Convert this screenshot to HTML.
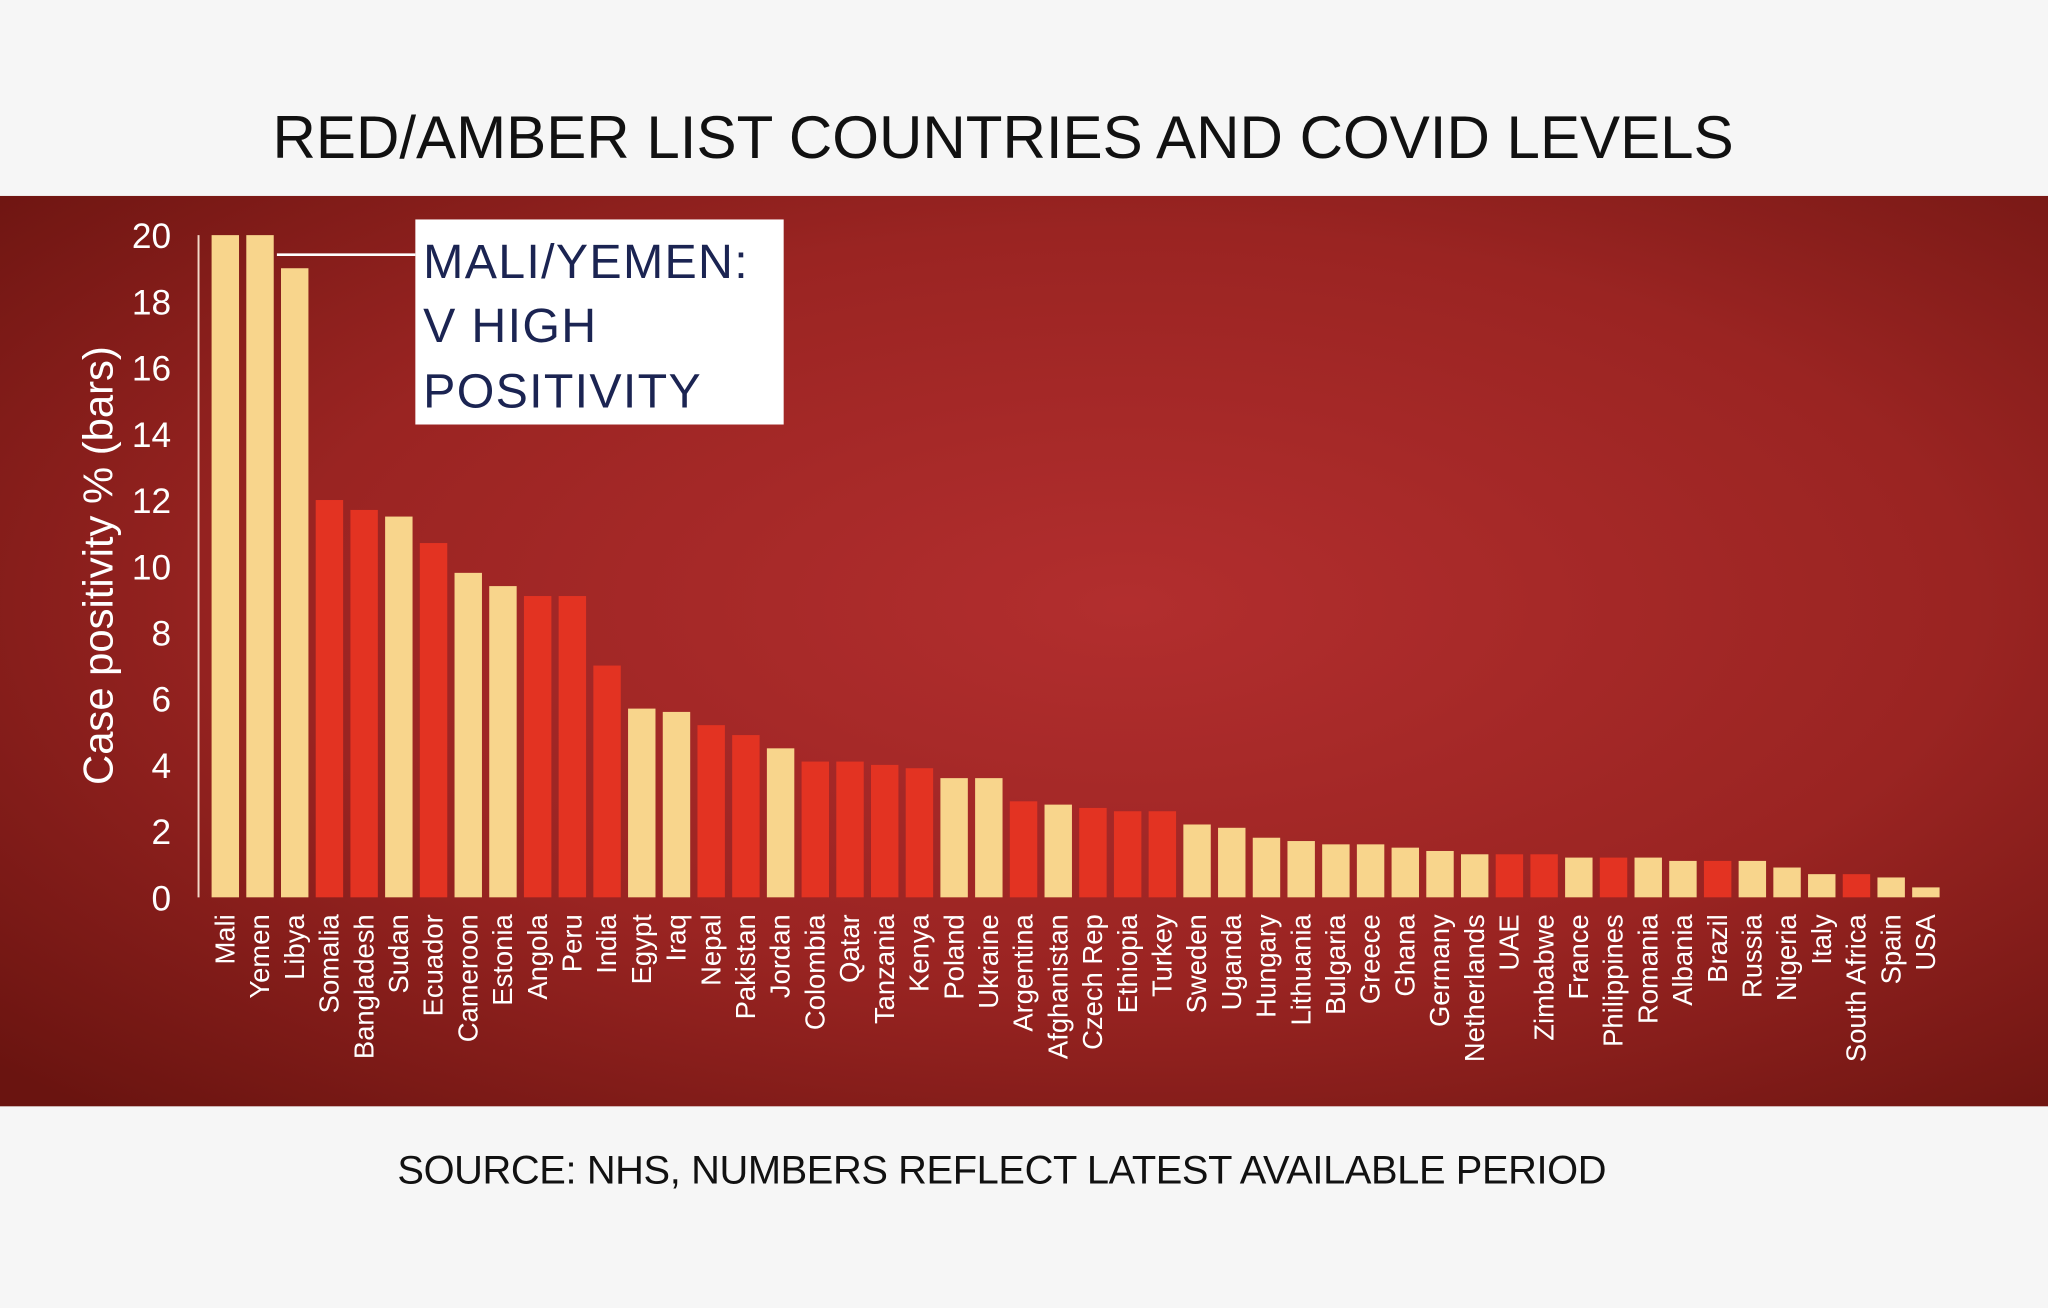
<!DOCTYPE html>
<html><head><meta charset="utf-8"><style>
html,body{margin:0;padding:0;background:#f7f7f7;}
svg{display:block;}
text{font-family:"Liberation Sans",sans-serif;}
</style></head><body>
<svg id="chart" width="2048" height="1308" viewBox="0 0 1568 1001.4" xmlns="http://www.w3.org/2000/svg">
<defs>
<radialGradient id="bg" cx="0.55" cy="0.45" r="0.75">
<stop offset="0" stop-color="#b22e2e"/>
<stop offset="0.55" stop-color="#9a2422"/>
<stop offset="1" stop-color="#6a1410"/>
</radialGradient>
</defs>
<rect x="0" y="0" width="1568" height="1001.4" fill="#f6f6f6"/>
<text x="768" y="121" text-anchor="middle" font-size="46" fill="#111">RED/AMBER LIST COUNTRIES AND COVID LEVELS</text>
<rect x="0" y="150" width="1568" height="697" fill="url(#bg)"/>
<line x1="152" y1="180" x2="152" y2="687" stroke="#f3d9c8" stroke-width="1.5"/>
<g id="yticks"></g>
<text transform="translate(86,433) rotate(-90)" text-anchor="middle" font-size="32" fill="#fff">Case positivity % (bars)</text>
<g id="bars"></g>
<g id="xlabels"></g>
<line x1="212" y1="195" x2="318" y2="195" stroke="#fff" stroke-width="2"/>
<rect x="318" y="168" width="282" height="157" fill="#fff"/>
<g font-size="37" fill="#1b2452" letter-spacing="1">
<text x="324" y="213">MALI/YEMEN:</text>
<text x="324" y="262">V HIGH</text>
<text x="324" y="312">POSITIVITY</text>
</g>
<text x="767" y="906" text-anchor="middle" font-size="30.5" letter-spacing="-0.3" fill="#111">SOURCE: NHS, NUMBERS REFLECT LATEST AVAILABLE PERIOD</text>
</svg>
<script>
const countries=["Mali","Yemen","Libya","Somalia","Bangladesh","Sudan","Ecuador","Cameroon","Estonia","Angola","Peru","India","Egypt","Iraq","Nepal","Pakistan","Jordan","Colombia","Qatar","Tanzania","Kenya","Poland","Ukraine","Argentina","Afghanistan","Czech Rep","Ethiopia","Turkey","Sweden","Uganda","Hungary","Lithuania","Bulgaria","Greece","Ghana","Germany","Netherlands","UAE","Zimbabwe","France","Philippines","Romania","Albania","Brazil","Russia","Nigeria","Italy","South Africa","Spain","USA"];
const positivity=[20,20,19,12,11.7,11.5,10.7,9.8,9.4,9.1,9.1,7.0,5.7,5.6,5.2,4.9,4.5,4.1,4.1,4.0,3.9,3.6,3.6,2.9,2.8,2.7,2.6,2.6,2.2,2.1,1.8,1.7,1.6,1.6,1.5,1.4,1.3,1.3,1.3,1.2,1.2,1.2,1.1,1.1,1.1,0.9,0.7,0.7,0.6,0.3];
const listType=["A","A","A","R","R","A","R","A","A","R","R","R","A","A","R","R","A","R","R","R","R","A","A","R","A","R","R","R","A","A","A","A","A","A","A","A","A","R","R","A","R","A","A","R","A","A","A","R","A","A"];
const yTicks=[0,2,4,6,8,10,12,14,16,18,20];
const NS="http://www.w3.org/2000/svg";
const y0=687,yTop=180,vmax=20;
function yScale(v){return y0-(v/vmax)*(y0-yTop);}
const x0=172.5,step=(1474.5-172.5)/49,bw=21;
function xScale(i){return x0+i*step;}
const gT=document.getElementById('yticks');
yTicks.forEach(t=>{
const el=document.createElementNS(NS,'text');
el.setAttribute('x',131);el.setAttribute('y',yScale(t)+10);
el.setAttribute('text-anchor','end');el.setAttribute('font-size','27');el.setAttribute('fill','#fff');
el.textContent=t;


gT.appendChild(el);
});
const gB=document.getElementById('bars'),gL=document.getElementById('xlabels');
countries.forEach((c,i)=>{
const r=document.createElementNS(NS,'rect');
const cx=xScale(i);
r.setAttribute('x',cx-bw/2);r.setAttribute('width',bw);
r.setAttribute('y',yScale(positivity[i]));r.setAttribute('height',y0-yScale(positivity[i]));
r.setAttribute('fill',listType[i]==='R'?'#e33322':'#f8d58c');


gB.appendChild(r);
const t=document.createElementNS(NS,'text');
t.setAttribute('transform','translate('+(cx+7)+',700) rotate(-90)');
t.setAttribute('text-anchor','end');t.setAttribute('font-size','21');t.setAttribute('fill','#fff');
t.textContent=c;


gL.appendChild(t);
});
</script>
</body></html>
